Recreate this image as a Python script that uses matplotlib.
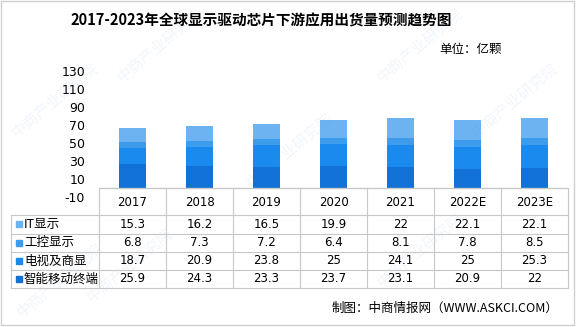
import numpy as np
import matplotlib
matplotlib.use("Agg")
from matplotlib import pyplot as plt

plt.rcParams['font.family'] = ['Noto Sans CJK SC', 'DejaVu Sans']

#Data ----------------------------------------------------------#
years = ['2017', '2018', '2019', '2020', '2021', '2022E', '2023E']
series = ['IT显示', '工控显示', '电视及商显', '智能移动终端']
it_disp = [15.3, 16.2, 16.5, 19.9, 22, 22.1, 22.1]
ind_ctrl = [6.8, 7.3, 7.2, 6.4, 8.1, 7.8, 8.5]
tv_comm = [18.7, 20.9, 23.8, 25, 24.1, 25, 25.3]
mobile = [25.9, 24.3, 23.3, 23.7, 23.1, 20.9, 22]
yticks = [-10, 10, 30, 50, 70, 90, 110, 130]

colors = ['#6db3f2', '#3e9cec', '#1a8aee', '#1171d6']
grid_c = '#c8c8c8'

W, H = 576, 327
fig = plt.figure(figsize=(W/100, H/100), dpi=100)

#Bar chart -----------------------------------------------------#
y_lo, y_hi = 196.7, 71.0   # pixel rows of -10 and 130
x_lo, x_hi = 99.0, 568.0
ax = fig.add_axes([x_lo/W, 1 - y_lo/H, (x_hi - x_lo)/W, (y_lo - y_hi)/H])
ax.set_xlim(-0.5, len(years) - 0.5)
ax.set_ylim(-10, 130)
ax.set_yticks(yticks)
ax.set_yticklabels([str(v) for v in yticks], fontsize=9, family='DejaVu Sans')
ax.tick_params(axis='y', length=0, pad=10)
ax.set_xticks([])
for s in ax.spines.values():
    s.set_visible(False)
ax.patch.set_alpha(0)

# stacked from the bottom: mobile, tv, industrial, IT
stack = [mobile, tv_comm, ind_ctrl, it_disp]
stack_c = colors[::-1]
x = np.arange(len(years))
bottom = np.zeros(len(years))
for vals, c in zip(stack, stack_c):
    ax.bar(x, vals, width=0.4, bottom=bottom, color=c, zorder=3)
    bottom += np.array(vals)
ax.axhline(0, color=grid_c, lw=1, zorder=4)

#Data table (pixel coords) -------------------------------------#
tab = fig.add_axes([0, 0, 1, 1])
tab.set_xlim(0, W)
tab.set_ylim(H, 0)
tab.axis('off')
tab.patch.set_alpha(0)

col_w = (x_hi - x_lo) / len(years)
rows = [188, 215, 233.5, 252, 270, 288]
lab_x = 11
for k in range(len(years) + 1):
    xv = x_lo + k*col_w
    tab.plot([xv, xv], [rows[0], rows[-1]], color=grid_c, lw=0.8)
tab.plot([lab_x, lab_x], [rows[1], rows[-1]], color=grid_c, lw=0.8)
for r in rows[1:]:
    tab.plot([lab_x, x_hi], [r, r], color=grid_c, lw=0.8)

for i, yr in enumerate(years):
    cx = x_lo + (i + 0.5)*col_w
    tab.text(cx, (rows[0] + rows[1])/2 + 1, yr, ha='center', va='center',
             fontsize=8.5, family='DejaVu Sans')

table_vals = [it_disp, ind_ctrl, tv_comm, mobile]
for j, (name, vals, c) in enumerate(zip(series, table_vals, colors)):
    cy = (rows[j + 1] + rows[j + 2])/2
    tab.add_patch(plt.Rectangle((lab_x + 5, cy - 3), 6, 6, color=c))
    tab.text(lab_x + 13, cy, name, ha='left', va='center', fontsize=9)
    for i, v in enumerate(vals):
        cx = x_lo + (i + 0.5)*col_w
        tab.text(cx, cy, f'{v:g}', ha='center', va='center',
                 fontsize=8.5, family='DejaVu Sans')

#Titles --------------------------------------------------------#
tab.text(261, 20, '2017-2023年全球显示驱动芯片下游应用出货量预测趋势图',
         ha='center', va='center', fontsize=10.5, fontweight='bold')
tab.text(502, 49, '单位：亿颗', ha='right', va='center', fontsize=9)
tab.text(558, 308, '制图：中商情报网（WWW.ASKCI.COM）', ha='right',
         va='center', fontsize=9)

# watermark
for wx, wy in [(55, 100), (160, 45), (290, 150), (420, 45), (515, 100),
               (130, 265), (420, 250), (60, 280)]:
    tab.text(wx, wy, '中商产业研究院', ha='center', va='center', fontsize=11,
             rotation=40, color='#4a8fd8', alpha=0.08, zorder=0)

# outer frame
tab.add_patch(plt.Rectangle((1, 1), W - 3, H - 3, fill=False,
                            ec='#d0d0d0', lw=1))

fig.savefig('out.png', dpi=100)
